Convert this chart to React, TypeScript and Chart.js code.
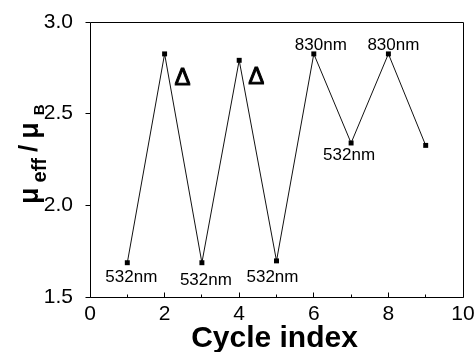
import React, { useEffect, useRef } from 'react';
import { Chart, registerables } from 'chart.js';

Chart.register(...registerables);

// ---- data ----
const cycles = [1, 2, 3, 4, 5, 6, 7, 8, 9];
const muEff = [1.687, 2.826, 1.687, 2.791, 1.697, 2.826, 2.34, 2.826, 2.327];
const xTickValues = [0, 2, 4, 6, 8, 10];
const xMinorTickValues = [1, 3, 5, 7, 9];
const yTickValues = [1.5, 2.0, 2.5, 3.0];
const pointNotes = ['532nm', 'Δ', '532nm', 'Δ', '532nm', '830nm', '532nm', '830nm', ''];
const xTitle = 'Cycle index';

// ---- styles (offsets of notes relative to their point) ----
const noteStyles = [
  { dx: 4, dy: 19, size: 17, heavy: false },
  { dx: 18, dy: 31, size: 24, heavy: true },
  { dx: 4, dy: 22, size: 17, heavy: false },
  { dx: 17, dy: 24, size: 24, heavy: true },
  { dx: -4, dy: 21, size: 17, heavy: false },
  { dx: 7, dy: -4, size: 17, heavy: false },
  { dx: -2, dy: 17, size: 17, heavy: false },
  { dx: 5, dy: -4, size: 17, heavy: false },
  { dx: 0, dy: 0, size: 17, heavy: false },
];

const FONT = '"Liberation Sans", Arial, Helvetica, sans-serif';

const decorPlugin = {
  id: 'decor',
  afterDraw(chart: any) {
    const ctx = chart.ctx as CanvasRenderingContext2D;
    const { left, right, top, bottom } = chart.chartArea;
    const xs = chart.scales.x;
    const ys = chart.scales.y;
    const p = (v: number) => Math.floor(v) + 0.5;
    ctx.save();
    ctx.strokeStyle = '#000';
    ctx.lineWidth = 1;
    // frame
    ctx.beginPath();
    ctx.rect(p(left), p(top), p(right) - p(left), p(bottom) - p(top));
    ctx.stroke();
    // x ticks (inward)
    ctx.beginPath();
    xTickValues.forEach((v) => {
      const x = p(xs.getPixelForValue(v));
      ctx.moveTo(x, p(bottom));
      ctx.lineTo(x, p(bottom) - 5);
    });
    xMinorTickValues.forEach((v) => {
      const x = p(xs.getPixelForValue(v));
      ctx.moveTo(x, p(bottom));
      ctx.lineTo(x, p(bottom) - 3);
    });
    // y ticks (outward)
    yTickValues.forEach((v) => {
      const y = p(ys.getPixelForValue(v));
      ctx.moveTo(p(left), y);
      ctx.lineTo(p(left) - 5, y);
    });
    ctx.stroke();

    // point notes
    ctx.fillStyle = '#000';
    ctx.textAlign = 'center';
    ctx.textBaseline = 'alphabetic';
    cycles.forEach((c, i) => {
      const t = pointNotes[i];
      if (!t) return;
      const st = noteStyles[i];
      ctx.font = `${st.size}px ${FONT}`;
      const x = xs.getPixelForValue(c) + st.dx;
      const y = ys.getPixelForValue(muEff[i]) + st.dy;
      ctx.fillText(t, x, y);
      if (st.heavy) {
        ctx.lineWidth = 1;
        ctx.lineJoin = 'miter';
        ctx.strokeText(t, x, y);
      }
    });

    // x title
    ctx.font = `bold 30px ${FONT}`;
    ctx.fillText(xTitle, (left + right) / 2 - 2, 347);

    // y title: μ_eff / μ_B (rotated)
    const pieces = [
      { text: 'μ', font: `bold 27px ${FONT}`, base: 38, gap: 5 },
      { text: 'eff', font: `bold 20px ${FONT}`, base: 46, gap: 6 },
      { text: '/', font: `bold 26px ${FONT}`, base: 37, gap: 6 },
      { text: 'μ', font: `bold 27px ${FONT}`, base: 38, gap: 7 },
      { text: 'B', font: `bold 15px ${FONT}`, base: 44, gap: 0 },
    ];
    let cy = 204;
    ctx.textAlign = 'left';
    pieces.forEach((pc) => {
      ctx.font = pc.font;
      const w = ctx.measureText(pc.text).width;
      ctx.save();
      ctx.translate(pc.base, cy);
      ctx.rotate(-Math.PI / 2);
      ctx.fillText(pc.text, 0, 0);
      ctx.restore();
      cy -= w + pc.gap;
    });
    ctx.restore();
  },
};

export default function App() {
  const ref = useRef<HTMLCanvasElement | null>(null);
  useEffect(() => {
    if (!ref.current) return;
    const chart = new Chart(ref.current, {
      type: 'line',
      data: {
        datasets: [
          {
            data: cycles.map((c, i) => ({ x: c, y: muEff[i] })),
            borderColor: '#111',
            borderWidth: 1,
            pointStyle: 'rect',
            pointRadius: 3.5,
            pointBackgroundColor: '#000',
            pointBorderWidth: 0,
            tension: 0,
          },
        ],
      },
      options: {
        responsive: false,
        animation: false,
        layout: { padding: { left: 0, top: 22, right: 13, bottom: 0 } },
        plugins: { legend: { display: false }, tooltip: { enabled: false } },
        scales: {
          x: {
            type: 'linear',
            min: 0,
            max: 10,
            grid: { display: false },
            border: { display: false },
            afterBuildTicks: (s: any) => {
              s.ticks = xTickValues.map((v) => ({ value: v }));
            },
            afterFit: (s: any) => {
              s.height = 55;
            },
            ticks: {
              color: '#000',
              padding: -3,
              maxRotation: 0,
              font: { family: FONT, size: 21 },
              callback: (v: any) => String(v),
            },
          },
          y: {
            type: 'linear',
            min: 1.5,
            max: 3.0,
            grid: { display: false },
            border: { display: false },
            afterBuildTicks: (s: any) => {
              s.ticks = yTickValues.map((v) => ({ value: v }));
            },
            afterFit: (s: any) => {
              s.width = 90;
            },
            ticks: {
              color: '#000',
              padding: 9,
              font: { family: FONT, size: 21 },
              callback: (v: any) => Number(v).toFixed(1),
            },
          },
        },
      },
      plugins: [decorPlugin],
    });
    return () => chart.destroy();
  }, []);
  return (
    <div style={{ position: 'absolute', left: 0, top: 0, width: 476, height: 352, background: '#fff' }}>
      <canvas ref={ref} width={476} height={352} style={{ display: 'block' }} />
    </div>
  );
}
